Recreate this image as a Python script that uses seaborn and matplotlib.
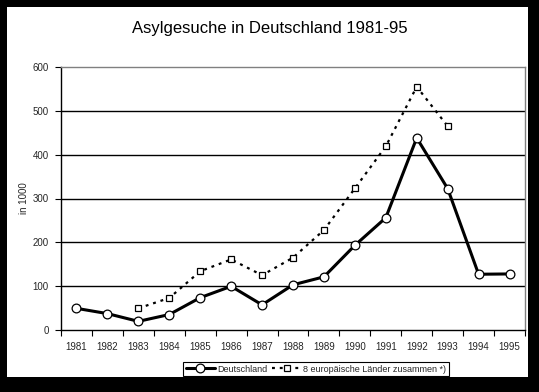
import numpy as np
import pandas as pd
import matplotlib
matplotlib.use("Agg")
import matplotlib.pyplot as plt
from matplotlib.patches import Rectangle
import seaborn as sns

# ---- data ----
years = ["1981", "1982", "1983", "1984", "1985", "1986", "1987", "1988",
         "1989", "1990", "1991", "1992", "1993", "1994", "1995"]
deutschland = [49.4, 37.4, 19.7, 35.3, 73.8, 99.7, 57.4, 103.1,
               121.3, 193.1, 256.1, 438.2, 322.6, 127.2, 127.9]
europa8 = [np.nan, np.nan, 49.5, 73, 134, 161, 125, 165,
           228, 323, 419, 555, 465, np.nan, np.nan]
yticks = [0, 100, 200, 300, 400, 500, 600]
label_de = "Deutschland"
label_eu = "8 europäische Länder zusammen *)"
title = "Asylgesuche in Deutschland 1981-95"
ylabel = "in 1000"

sns.set_theme(style="white")
plt.rcParams['font.family'] = ['Liberation Sans', 'DejaVu Sans']

df = pd.DataFrame({"pos": np.arange(len(years)), "year": years,
                   "de": deutschland, "eu": europa8})

fig = plt.figure(figsize=(5.39, 3.92), dpi=100)
fig.patch.set_facecolor("black")
W, H = 539.0, 392.0
bg = Rectangle((7 / W, (H - 377) / H), (528 - 7) / W, (377 - 7) / H,
               transform=fig.transFigure, facecolor="white",
               edgecolor="none", zorder=-10)
fig.patches.append(bg)

ax = fig.add_axes([61 / W, (H - 330) / H, (525 - 61) / W, (330 - 67) / H])
ax.set_zorder(1)
ax.set_facecolor("white")

for yv in yticks[1:-1]:
    ax.axhline(yv, color="black", lw=1.0, zorder=1)

sns.lineplot(data=df, x="pos", y="eu", ax=ax, color="black", lw=1.6,
             linestyle=(0, (1.3, 2.2)), marker="s", markersize=4.5,
             markerfacecolor="white", markeredgecolor="black",
             markeredgewidth=0.9, label=label_eu, zorder=3)
sns.lineplot(data=df, x="pos", y="de", ax=ax, color="black", lw=2.2,
             marker="o", markersize=6.3, markerfacecolor="white",
             markeredgecolor="black", markeredgewidth=0.9,
             label=label_de, zorder=4)

ax.set_xlim(-0.5, len(years) - 0.5)
ax.set_ylim(0, 600)
ax.set_yticks(yticks)
ax.set_yticklabels([str(v) for v in yticks], fontsize=7)
ax.set_xticks(np.arange(-0.5, len(years), 1.0))
ax.set_xticklabels([])
ax.set_xticks(np.arange(len(years)), minor=True)
ax.set_xticklabels(years, minor=True, fontsize=7)
ax.tick_params(axis="x", which="major", direction="out", length=4, width=0.8,
               color="black", bottom=True)
ax.tick_params(axis="x", which="minor", length=0, pad=9, bottom=True)
ax.tick_params(axis="y", which="major", direction="out", length=4, width=0.8,
               color="black", left=True, pad=5)
ax.set_xlabel("")
ax.set_ylabel(ylabel, fontsize=7, labelpad=2)

for s in ["left", "bottom"]:
    ax.spines[s].set_color("black")
    ax.spines[s].set_linewidth(1.0)
for s in ["top", "right"]:
    ax.spines[s].set_color("#808080")
    ax.spines[s].set_linewidth(1.0)
    ax.spines[s].set_visible(True)

fig.text(270 / W, (H - 28) / H, title, ha="center", va="center",
         fontsize=12, color="black")

handles, labels = ax.get_legend_handles_labels()
order = [labels.index(label_de), labels.index(label_eu)]
ax.legend([handles[i] for i in order], [labels[i] for i in order],
          loc="center", bbox_to_anchor=(316 / W, (H - 369) / H),
          bbox_transform=fig.transFigure, ncol=2, fontsize=6.5,
          frameon=True, fancybox=False, edgecolor="black", framealpha=1,
          handlelength=3.3, handletextpad=0.2, columnspacing=0.5,
          borderpad=0.25, borderaxespad=0)
ax.get_legend().get_frame().set_linewidth(0.8)

fig.savefig("out.png", dpi=100, facecolor=fig.get_facecolor())
